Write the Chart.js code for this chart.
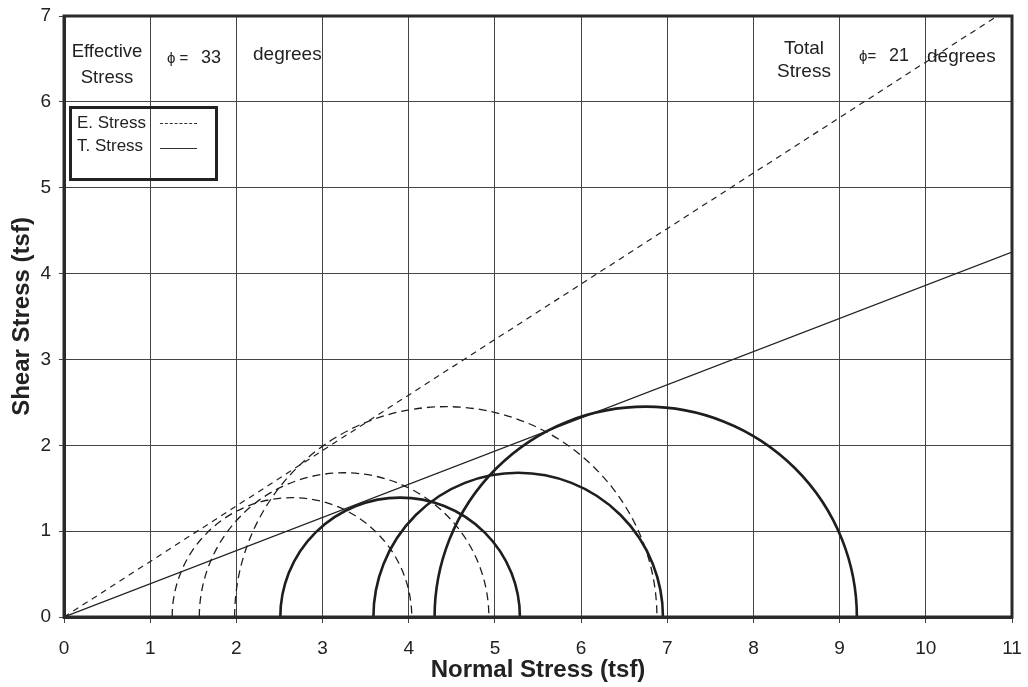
<!DOCTYPE html>
<html lang="en">
<head>
  <meta charset="UTF-8">
  <title>Mohr Circles</title>
  <script src="https://cdn.jsdelivr.net/npm/chart.js"></script>
  <style>
    html, body { margin: 0; padding: 0; background: #fff; }
    .wrap { position: relative; width: 1028px; height: 687px; font-family: "Liberation Sans", Arial, sans-serif; color: #222; }
    canvas { position: absolute; left: 0; top: 0; }
    .note { position: absolute; text-align: center; line-height: 1; white-space: nowrap; }
    .phi { font-size: 15px; }
    .legend-box {
      position: absolute; left: 69px; top: 106px; width: 143px; height: 69px;
      border: 3px solid #222;
    }
    .legend-row { position: absolute; left: 5px; font-size: 17px; line-height: 1; }
    .sample { position: absolute; left: 88px; width: 37px; height: 0; }
  </style>
</head>
<body>
  <div class="wrap">
    <canvas id="mohrChart" width="1028" height="687"></canvas>

    <div class="note" style="left:66px; top:38px; width:82px; font-size:18.5px; line-height:26px;">Effective<br>Stress</div>
    <div class="note phi" style="left:167px; top:50px;">&#981; =</div>
    <div class="note" style="left:201px; top:48px; font-size:18px;">33</div>
    <div class="note" style="left:253px; top:44px; font-size:19px;">degrees</div>

    <div class="note" style="left:766px; top:36px; width:76px; font-size:19px; line-height:23px;">Total<br>Stress</div>
    <div class="note phi" style="left:859px; top:48px;">&#981;=</div>
    <div class="note" style="left:889px; top:46px; font-size:18px;">21</div>
    <div class="note" style="left:927px; top:46px; font-size:19px;">degrees</div>

    <div class="legend-box">
      <div class="legend-row" style="top:5px;">E. Stress</div>
      <div class="sample" style="top:14px; border-top:1px dashed #333;"></div>
      <div class="legend-row" style="top:28px;">T. Stress</div>
      <div class="sample" style="top:39px; border-top:1px solid #333;"></div>
    </div>
  </div>

  <script>
    // axis ranges and ticks
    const xMax = 11;
    const yMax = 7;

    // failure envelopes (end points)
    const effectiveLineX = [0, 10.83];
    const effectiveLineY = [0, 7.0];
    const totalLineX = [0, 11];
    const totalLineY = [0, 4.25];

    // Mohr circles: centres and radii on the normal stress axis
    const totalCenters = [3.9, 5.27, 6.75];
    const totalRadii = [1.39, 1.68, 2.45];
    const effectiveCenters = [2.645, 3.25, 4.43];
    const effectiveRadii = [1.39, 1.68, 2.45];

    const toPoints = (xs, ys) => xs.map((x, i) => ({ x: x, y: ys[i] }));

    // draws the half circles through the chart scales
    const mohrCircles = {
      id: 'mohrCircles',
      afterDatasetsDraw(chart) {
        const { ctx, chartArea, scales } = chart;
        const sx = scales.x, sy = scales.y;
        ctx.save();
        ctx.beginPath();
        ctx.rect(chartArea.left, chartArea.top, chartArea.right - chartArea.left, chartArea.bottom - chartArea.top);
        ctx.clip();

        const drawSet = (centers, radii, dash, width) => {
          ctx.setLineDash(dash);
          ctx.lineWidth = width;
          ctx.strokeStyle = '#1e1e1e';
          centers.forEach((c, i) => {
            const r = radii[i];
            const cx = sx.getPixelForValue(c);
            const cy = sy.getPixelForValue(0);
            const rx = sx.getPixelForValue(c + r) - cx;
            const ry = cy - sy.getPixelForValue(r);
            ctx.beginPath();
            ctx.ellipse(cx, cy, rx, ry, 0, Math.PI, 2 * Math.PI);
            ctx.stroke();
          });
        };
        drawSet(effectiveCenters, effectiveRadii, [8, 5], 1.3);
        drawSet(totalCenters, totalRadii, [], 2.6);
        ctx.restore();
      }
    };

    // plot frame
    const frame = {
      id: 'frame',
      afterDraw(chart) {
        const { ctx, chartArea: a } = chart;
        ctx.save();
        ctx.strokeStyle = '#2a2a2a';
        ctx.lineWidth = 3;
        ctx.strokeRect(a.left, a.top, a.right - a.left, a.bottom - a.top);
        ctx.restore();
      }
    };

    const ctx = document.getElementById('mohrChart').getContext('2d');
    new Chart(ctx, {
      type: 'scatter',
      data: {
        datasets: [
          {
            label: 'E. Stress',
            data: toPoints(effectiveLineX, effectiveLineY),
            showLine: true,
            borderColor: '#222',
            borderWidth: 1.2,
            borderDash: [6, 5],
            pointRadius: 0
          },
          {
            label: 'T. Stress',
            data: toPoints(totalLineX, totalLineY),
            showLine: true,
            borderColor: '#222',
            borderWidth: 1.2,
            pointRadius: 0
          }
        ]
      },
      options: {
        responsive: false,
        animation: false,
        layout: { padding: { top: 16, right: 16, left: 0, bottom: 0 } },
        plugins: {
          legend: { display: false },
          tooltip: { enabled: false }
        },
        scales: {
          x: {
            type: 'linear',
            min: 0,
            max: xMax,
            ticks: { stepSize: 1, color: '#222', padding: 14, font: { family: 'Liberation Sans', size: 19 } },
            grid: { color: '#444', lineWidth: 1, tickLength: 6 },
            border: { color: '#2a2a2a', width: 3 },
            title: {
              display: true,
              text: 'Normal Stress (tsf)',
              color: '#222',
              padding: { top: 0, bottom: 2 },
              font: { family: 'Liberation Sans', size: 24, weight: 'bold' }
            },
            afterFit(scale) {
              scale.height = 70;
              scale.paddingLeft = 0;
              scale.paddingRight = 0;
            }
          },
          y: {
            type: 'linear',
            min: 0,
            max: yMax,
            ticks: { stepSize: 1, color: '#222', padding: 8, font: { family: 'Liberation Sans', size: 19 } },
            grid: { color: '#444', lineWidth: 1, tickLength: 5 },
            border: { color: '#2a2a2a', width: 3 },
            title: {
              display: true,
              text: 'Shear Stress (tsf)',
              color: '#222',
              padding: { top: 8, bottom: 0 },
              font: { family: 'Liberation Sans', size: 24, weight: 'bold' }
            },
            afterFit(scale) {
              scale.width = 64;
              scale.paddingTop = 0;
              scale.paddingBottom = 0;
            }
          }
        }
      },
      plugins: [mohrCircles, frame]
    });
  </script>
</body>
</html>
